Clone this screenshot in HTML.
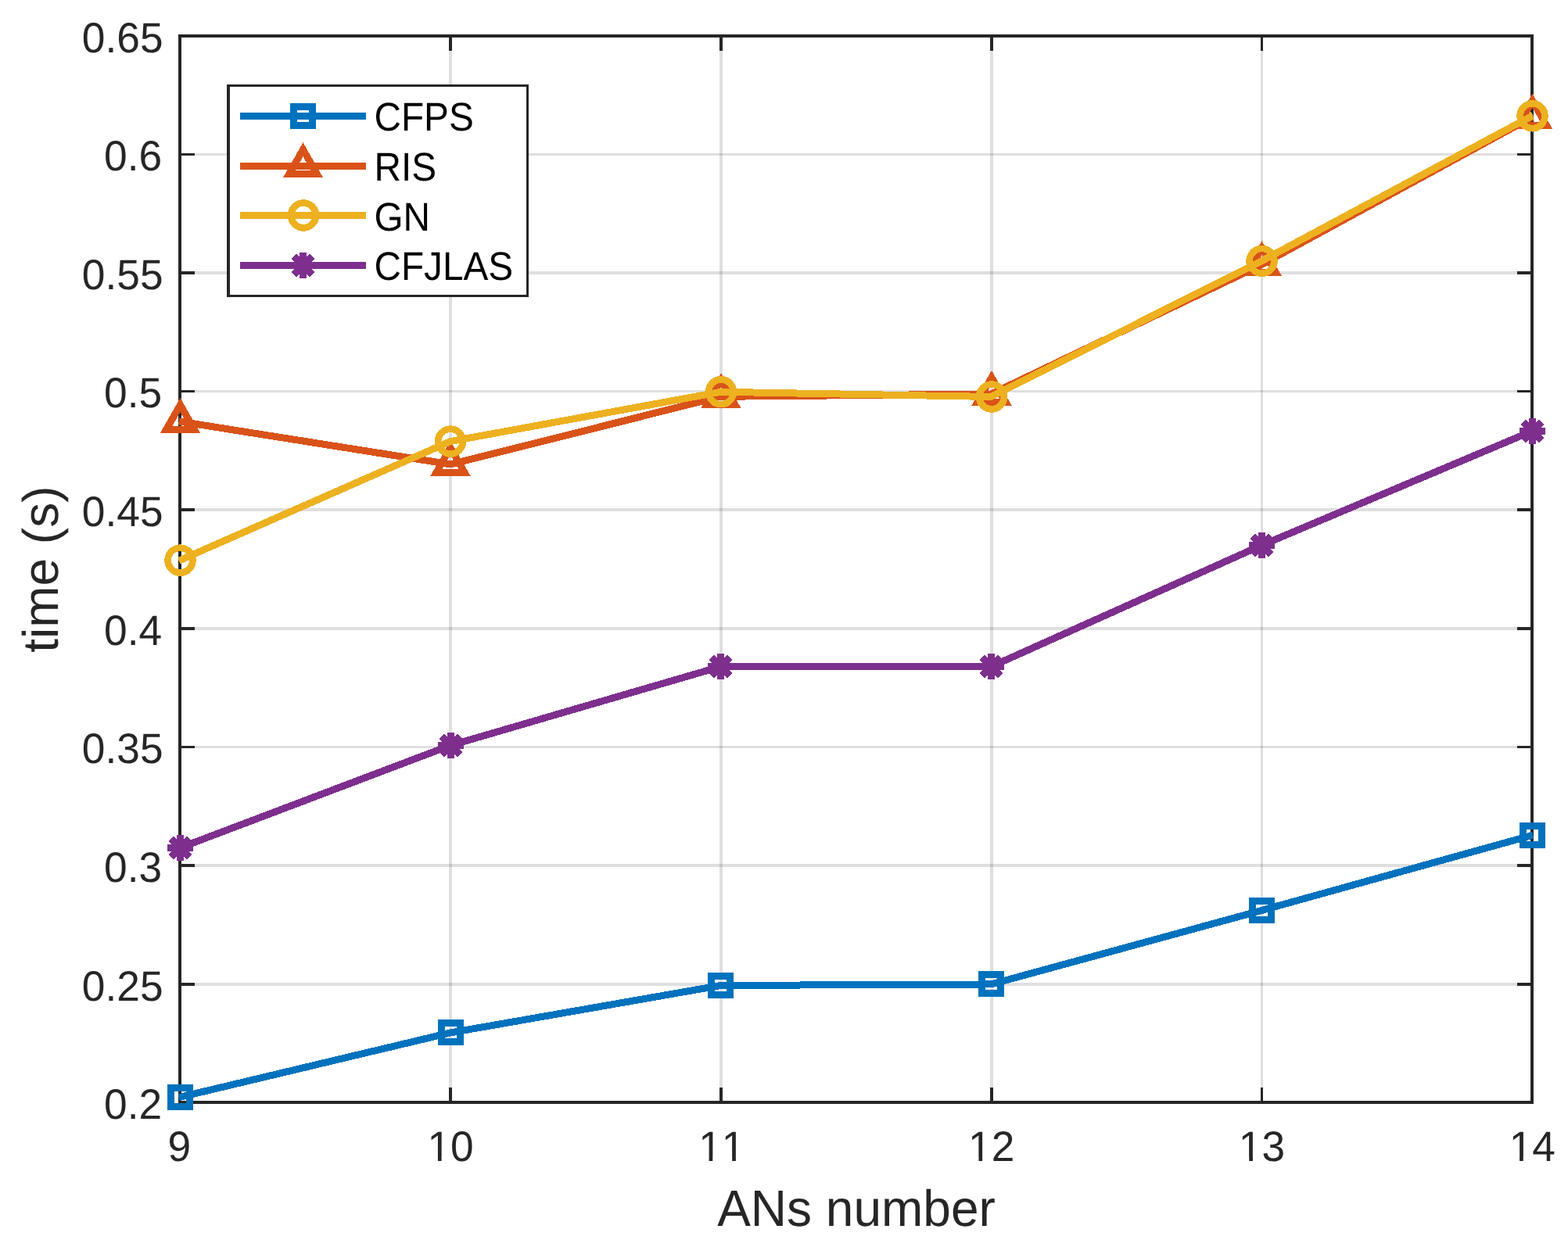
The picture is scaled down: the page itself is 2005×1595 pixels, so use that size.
<!DOCTYPE html>
<html lang="en"><head><meta charset="utf-8"><title>time (s) vs ANs number</title>
<style>
html,body{margin:0;padding:0;background:#fff;}
body{width:2005px;height:1595px;overflow:hidden;}
svg{display:block;}
text{font-family:"Liberation Sans",sans-serif;font-kerning:none;font-variant-ligatures:none;text-rendering:geometricPrecision;}
.tk{font-size:53.3px;fill:#262626;}
.lb{font-size:64px;fill:#262626;}
.lg{font-size:48px;fill:#000;}
</style></head><body>
<svg width="2005" height="1595" viewBox="0 0 2005 1595">
<rect x="0" y="0" width="2005" height="1595" fill="#fff"/>
<defs><clipPath id="axclip"><rect x="228.2" y="44.5" width="1732.4" height="1367"/></clipPath></defs>
<g shape-rendering="crispEdges" fill="#262626" fill-opacity="0.15">
<rect x="574" y="48" width="4" height="1360"/>
<rect x="920" y="48" width="4" height="1360"/>
<rect x="1266" y="48" width="4" height="1360"/>
<rect x="1612" y="48" width="3" height="1360"/>
<rect x="232" y="1257" width="1725" height="4"/>
<rect x="232" y="1105" width="1725" height="4"/>
<rect x="232" y="954" width="1725" height="3"/>
<rect x="232" y="802" width="1725" height="4"/>
<rect x="232" y="650" width="1725" height="4"/>
<rect x="232" y="499" width="1725" height="3"/>
<rect x="232" y="347" width="1725" height="4"/>
<rect x="232" y="196" width="1725" height="3"/>
</g>
<g shape-rendering="crispEdges" fill="#262626">
<rect x="228" y="44" width="1733" height="4"/>
<rect x="228" y="1408" width="1733" height="4"/>
<rect x="228" y="44" width="4" height="1368"/>
<rect x="1957" y="44" width="4" height="1368"/>
<rect x="574" y="48" width="4" height="17"/>
<rect x="574" y="1391" width="4" height="17"/>
<rect x="920" y="48" width="4" height="17"/>
<rect x="920" y="1391" width="4" height="17"/>
<rect x="1266" y="48" width="4" height="17"/>
<rect x="1266" y="1391" width="4" height="17"/>
<rect x="1612" y="48" width="3" height="17"/>
<rect x="1612" y="1391" width="3" height="17"/>
<rect x="232" y="1257" width="17" height="4"/>
<rect x="1940" y="1257" width="17" height="4"/>
<rect x="232" y="1105" width="17" height="4"/>
<rect x="1940" y="1105" width="17" height="4"/>
<rect x="232" y="954" width="17" height="3"/>
<rect x="1940" y="954" width="17" height="3"/>
<rect x="232" y="802" width="17" height="4"/>
<rect x="1940" y="802" width="17" height="4"/>
<rect x="232" y="650" width="17" height="4"/>
<rect x="1940" y="650" width="17" height="4"/>
<rect x="232" y="499" width="17" height="3"/>
<rect x="1940" y="499" width="17" height="3"/>
<rect x="232" y="347" width="17" height="4"/>
<rect x="1940" y="347" width="17" height="4"/>
<rect x="232" y="196" width="17" height="3"/>
<rect x="1940" y="196" width="17" height="3"/>
</g>
<g class="tk" text-anchor="end">
<text transform="translate(207.2 1431) scale(1 1.02)">0.2</text>
<text transform="translate(208.6 1280) scale(1 1.02)">0.25</text>
<text transform="translate(207.2 1128) scale(1 1.02)">0.3</text>
<text transform="translate(208.6 976) scale(1 1.02)">0.35</text>
<text transform="translate(207.2 825) scale(1 1.02)">0.4</text>
<text transform="translate(208.6 673) scale(1 1.02)">0.45</text>
<text transform="translate(207.2 521) scale(1 1.02)">0.5</text>
<text transform="translate(208.6 370) scale(1 1.02)">0.55</text>
<text transform="translate(207.2 218) scale(1 1.02)">0.6</text>
<text transform="translate(208.6 67) scale(1 1.02)">0.65</text>
</g>
<g class="tk" text-anchor="middle">
<text transform="translate(229.3 1485) scale(1 1.02)">9</text>
<text transform="translate(576.1 1485) scale(1 1.02)">10</text>
<text transform="translate(922.8 1485) scale(1 1.02)">11</text>
<text transform="translate(1267.7 1485) scale(1 1.02)">12</text>
<text transform="translate(1613.5 1485) scale(1 1.02)">13</text>
<text transform="translate(1959.3 1485) scale(1 1.02)">14</text>
</g>
<g fill="#fff">
<rect x="549.52" y="1480.34" width="10.34" height="6"/>
<rect x="564.57" y="1480.34" width="9.93" height="6"/>
<rect x="896.22" y="1480.34" width="10.34" height="6"/>
<rect x="911.27" y="1480.34" width="9.93" height="6"/>
<rect x="925.86" y="1480.34" width="10.34" height="6"/>
<rect x="940.91" y="1480.34" width="9.93" height="6"/>
<rect x="1241.12" y="1480.34" width="10.34" height="6"/>
<rect x="1256.17" y="1480.34" width="9.93" height="6"/>
<rect x="1586.92" y="1480.34" width="10.34" height="6"/>
<rect x="1601.97" y="1480.34" width="9.93" height="6"/>
<rect x="1932.72" y="1480.34" width="10.34" height="6"/>
<rect x="1947.77" y="1480.34" width="9.93" height="6"/>
</g>
<text class="lb" text-anchor="middle" transform="translate(1095 1567.8) scale(1 1.02)">ANs number</text>
<text class="lb" text-anchor="middle" transform="translate(74.2 728.2) rotate(-90)">time (s)</text>
<g shape-rendering="crispEdges">
<polyline clip-path="url(#axclip)" points="228.64,1403.72 575.8,1320.95 921.6,1260.45 1267.4,1258.95 1613.2,1164.5 1960.35,1068.03" fill="none" stroke="#0072BD" stroke-width="9" stroke-linejoin="round"/>
<rect x="218.5" y="1391.4" width="24" height="24" fill="none" stroke="#0072BD" stroke-width="9"/>
<rect x="564.5" y="1308.95" width="24" height="24" fill="none" stroke="#0072BD" stroke-width="9"/>
<rect x="909.5" y="1248.45" width="24" height="24" fill="none" stroke="#0072BD" stroke-width="9"/>
<rect x="1255.5" y="1246.95" width="24" height="24" fill="none" stroke="#0072BD" stroke-width="9"/>
<rect x="1601.5" y="1152.5" width="24" height="24" fill="none" stroke="#0072BD" stroke-width="9"/>
<rect x="1947.5" y="1056.4" width="24" height="24" fill="none" stroke="#0072BD" stroke-width="9"/>
</g>
<g shape-rendering="crispEdges">
<polyline clip-path="url(#axclip)" points="228.62,538.88 575.8,593.9 921.6,507.3 1267.4,504 1613.2,338.5 1960.23,149.33" fill="none" stroke="#D95319" stroke-width="9" stroke-linejoin="round"/>
<path d="M230.5 517.9L248.5 549.5L212.5 549.5Z" fill="none" stroke="#D95319" stroke-width="9" stroke-linejoin="miter" stroke-miterlimit="10"/>
<path d="M576 572.7L594 604.3L558 604.3Z" fill="none" stroke="#D95319" stroke-width="9" stroke-linejoin="miter" stroke-miterlimit="10"/>
<path d="M922 486.1L940 517.7L904 517.7Z" fill="none" stroke="#D95319" stroke-width="9" stroke-linejoin="miter" stroke-miterlimit="10"/>
<path d="M1268 482.8L1286 514.4L1250 514.4Z" fill="none" stroke="#D95319" stroke-width="9" stroke-linejoin="miter" stroke-miterlimit="10"/>
<path d="M1613.5 317.3L1631.5 348.9L1595.5 348.9Z" fill="none" stroke="#D95319" stroke-width="9" stroke-linejoin="miter" stroke-miterlimit="10"/>
<path d="M1959.5 128.8L1977.5 160.4L1941.5 160.4Z" fill="none" stroke="#D95319" stroke-width="9" stroke-linejoin="miter" stroke-miterlimit="10"/>
</g>
<g shape-rendering="crispEdges">
<polyline clip-path="url(#axclip)" points="228.72,717.21 575.8,564.6 921.6,501.25 1267.4,507.5 1613.2,333.85 1960.23,147.59" fill="none" stroke="#EDB120" stroke-width="9" stroke-linejoin="round"/>
<circle cx="230.5" cy="716.65" r="15.9" fill="none" stroke="#EDB120" stroke-width="8.7"/>
<circle cx="576" cy="564.6" r="15.9" fill="none" stroke="#EDB120" stroke-width="8.7"/>
<circle cx="922" cy="501.25" r="15.9" fill="none" stroke="#EDB120" stroke-width="8.7"/>
<circle cx="1268" cy="507.5" r="15.9" fill="none" stroke="#EDB120" stroke-width="8.7"/>
<circle cx="1613.5" cy="333.85" r="15.9" fill="none" stroke="#EDB120" stroke-width="8.7"/>
<circle cx="1959.5" cy="148.25" r="15.9" fill="none" stroke="#EDB120" stroke-width="8.7"/>
</g>
<g shape-rendering="crispEdges">
<polyline clip-path="url(#axclip)" points="228.69,1085 575.8,953.5 921.6,852.6 1267.4,852.6 1613.2,697.5 1960.29,550.96" fill="none" stroke="#7E2F8E" stroke-width="9" stroke-linejoin="round"/>
<path d="M214 1084.5H247M230.5 1068V1101M218.83 1072.83L242.17 1096.17M218.83 1096.17L242.17 1072.83" fill="none" stroke="#7E2F8E" stroke-width="9"/>
<path d="M560 953.5H593M576.5 937V970M564.83 941.83L588.17 965.17M564.83 965.17L588.17 941.83" fill="none" stroke="#7E2F8E" stroke-width="9"/>
<path d="M905 852.6H938M921.5 836.1V869.1M909.83 840.93L933.17 864.27M909.83 864.27L933.17 840.93" fill="none" stroke="#7E2F8E" stroke-width="9"/>
<path d="M1251 852.6H1284M1267.5 836.1V869.1M1255.83 840.93L1279.17 864.27M1255.83 864.27L1279.17 840.93" fill="none" stroke="#7E2F8E" stroke-width="9"/>
<path d="M1597 697.5H1630M1613.5 681V714M1601.83 685.83L1625.17 709.17M1601.83 709.17L1625.17 685.83" fill="none" stroke="#7E2F8E" stroke-width="9"/>
<path d="M1943 551.5H1976M1959.5 535V568M1947.83 539.83L1971.17 563.17M1947.83 563.17L1971.17 539.83" fill="none" stroke="#7E2F8E" stroke-width="9"/>
</g>
<g shape-rendering="crispEdges">
<rect x="292" y="109.6" width="382.5" height="268.8" fill="#fff" stroke="#262626" stroke-width="3.6"/>
<line x1="307" y1="148.5" x2="468" y2="148.5" stroke="#0072BD" stroke-width="9"/>
<rect x="375.5" y="136.5" width="24" height="24" fill="none" stroke="#0072BD" stroke-width="9"/>
<line x1="307" y1="212.5" x2="468" y2="212.5" stroke="#D95319" stroke-width="9"/>
<path d="M387.5 191.3L405.5 222.9L369.5 222.9Z" fill="none" stroke="#D95319" stroke-width="9" stroke-linejoin="miter" stroke-miterlimit="10"/>
<line x1="307" y1="275.5" x2="468" y2="275.5" stroke="#EDB120" stroke-width="9"/>
<circle cx="388" cy="275.5" r="15.9" fill="none" stroke="#EDB120" stroke-width="8.7"/>
<line x1="307" y1="339.5" x2="468" y2="339.5" stroke="#7E2F8E" stroke-width="9"/>
<path d="M371 339.5H404M387.5 323V356M375.83 327.83L399.17 351.17M375.83 351.17L399.17 327.83" fill="none" stroke="#7E2F8E" stroke-width="9"/>
</g>
<g class="lg">
<text transform="translate(478.5 166.9) scale(0.994 1.064)">CFPS</text>
<text transform="translate(478.5 230.8) scale(0.994 1.064)">RIS</text>
<text transform="translate(478.5 294.6) scale(0.994 1.064)">GN</text>
<text transform="translate(478.5 357.9) scale(0.994 1.064)">CFJLAS</text>
</g>
</svg>
</body></html>
